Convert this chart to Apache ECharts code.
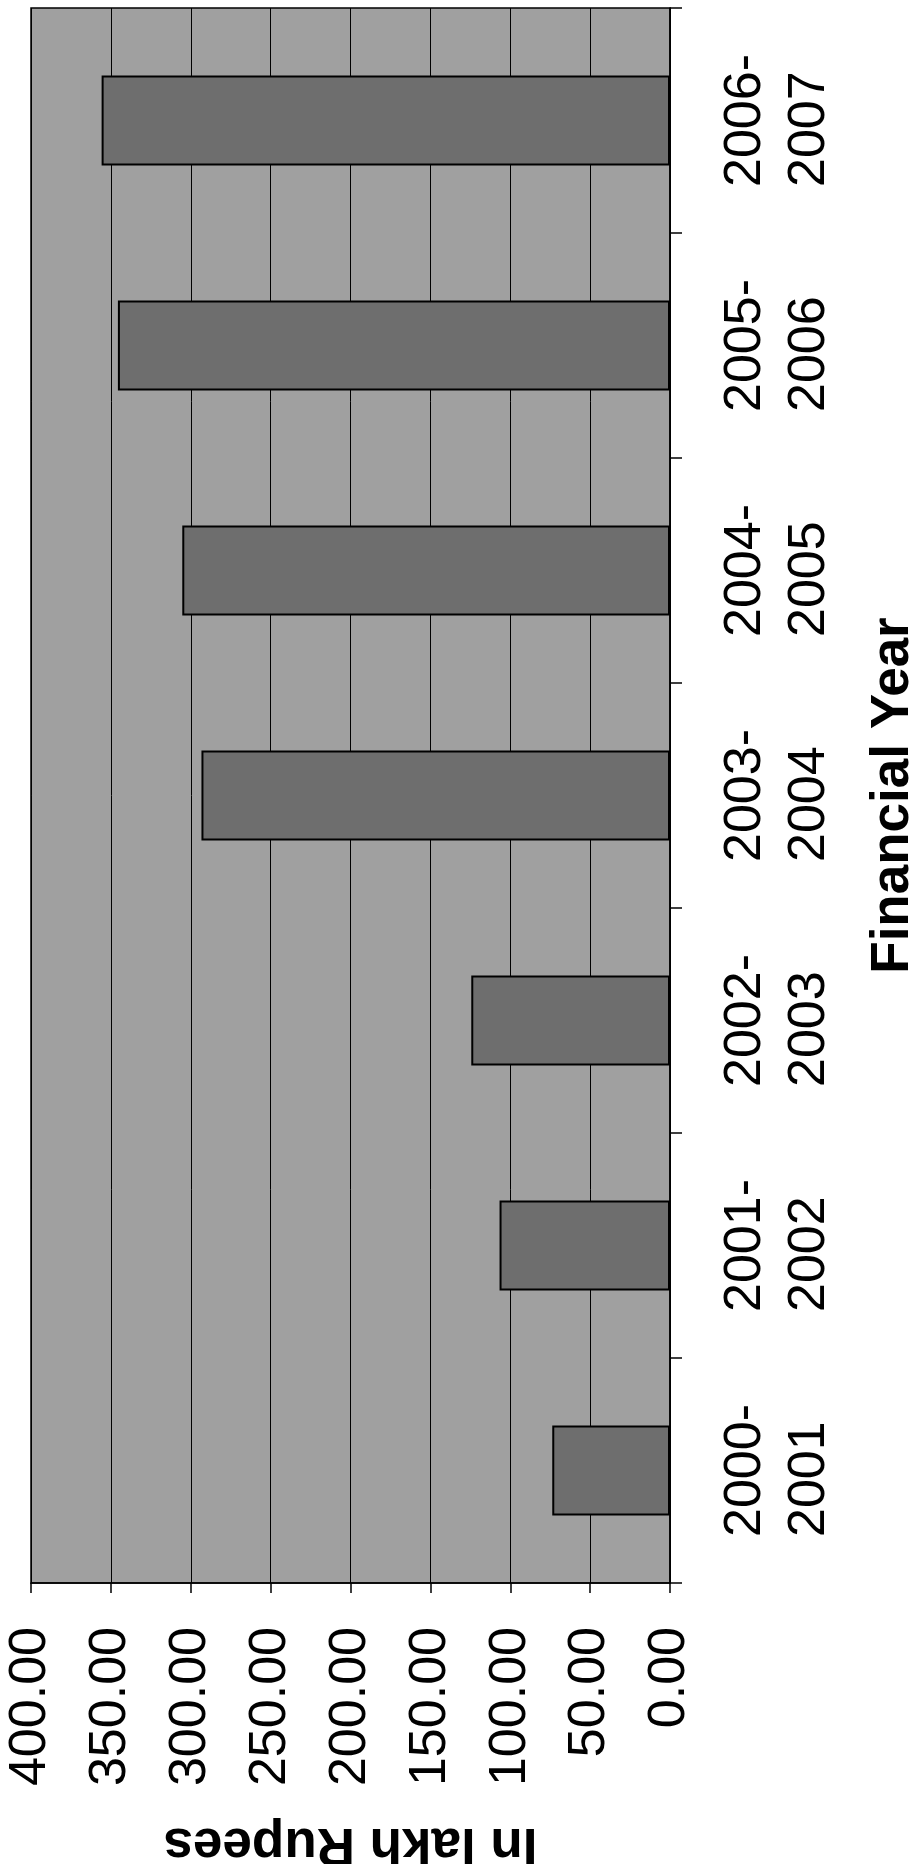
<!DOCTYPE html>
<html>
<head>
<meta charset="utf-8">
<script src="https://cdn.jsdelivr.net/npm/echarts@6/dist/echarts.min.js"></script>
<style>
html,body{margin:0;padding:0;background:#fff;}
#chart{width:919px;height:1864px;}
</style>
</head>
<body>
<div id="chart"></div>
<script>
const categories = ['2000-\n2001','2001-\n2002','2002-\n2003','2003-\n2004','2004-\n2005','2005-\n2006','2006-\n2007'];
const amounts = [73.7, 106.7, 124.4, 293.3, 305.3, 345.6, 355.8];
const valueAxisMin = 0;
const valueAxisMax = 400;
const valueAxisStep = 50;
const valueAxisTitle = 'In lakh Rupees';
const categoryAxisTitle = 'Financial Year';

const FONT = '"Liberation Sans", Arial, sans-serif';
const chart = echarts.init(document.getElementById('chart'), null, {renderer:'canvas'});
chart.setOption({
  animation:false,
  backgroundColor:'#ffffff',
  grid:{
    left:31, right:249, top:8, bottom:281,
    show:true, backgroundColor:'#a0a0a0', borderColor:'#000', borderWidth:1.5,
    containLabel:false, outerBoundsMode:'none'
  },
  xAxis:{
    type:'value', inverse:true, position:'bottom',
    min:valueAxisMin, max:valueAxisMax, interval:valueAxisStep,
    axisLine:{show:true, lineStyle:{color:'#000', width:1.5}},
    axisTick:{show:true, length:10, lineStyle:{color:'#000', width:1.5}},
    splitLine:{show:true, lineStyle:{color:'#000', width:1}},
    axisLabel:{
      rotate:90, margin:44, fontSize:52, color:'#000', fontFamily:FONT,
      formatter:v=>v.toFixed(2)
    },
    name:valueAxisTitle, nameLocation:'middle', nameRotate:180, nameGap:234,
    nameTextStyle:{fontSize:53, fontWeight:'bold', color:'#000', fontFamily:FONT}
  },
  yAxis:{
    type:'category', position:'right', data:categories,
    axisLine:{show:true, lineStyle:{color:'#000', width:1.5}},
    axisTick:{show:true, interval:0, length:12, lineStyle:{color:'#000', width:1.5}},
    splitLine:{show:false},
    axisLabel:{
      interval:0, hideOverlap:false,
      rotate:90, margin:44, fontSize:52, lineHeight:64, color:'#000', fontFamily:FONT,
      formatter:v=>v.split('\n').map(s=>'{a|'+s+'}').join('\n'),
      rich:{a:{align:'left', fontSize:52, lineHeight:64, color:'#000', fontFamily:FONT}}
    },
    name:categoryAxisTitle, nameLocation:'middle', nameRotate:90, nameGap:197,
    nameTextStyle:{fontSize:53, fontWeight:'bold', color:'#000', fontFamily:FONT}
  },
  series:[{
    type:'bar', data:amounts, barWidth:'40%',
    itemStyle:{color:'#6e6e6e', borderColor:'#000', borderWidth:2}
  }]
});
</script>
</body>
</html>
